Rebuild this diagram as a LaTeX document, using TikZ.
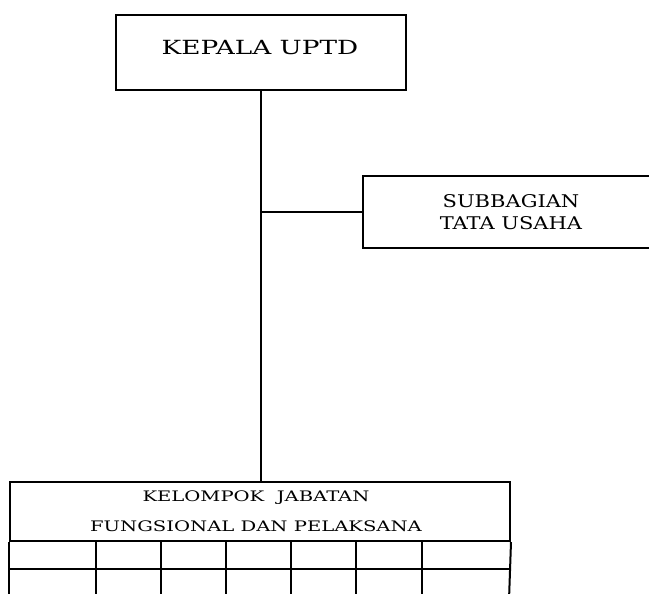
\documentclass[tikz,border=0pt]{standalone}
\usepackage{graphicx}
\usepackage{fontspec}
\setmainfont{DejaVu Serif}
\newcommand\widetext[4]{\scalebox{#1}[1]{\fontsize{#2}{#3}\selectfont\begin{tabular}{@{}c@{}}#4\end{tabular}}}
\begin{document}
\begin{tikzpicture}[x=1pt,y=-1pt,line width=2pt,
  box/.style={draw,rectangle,inner sep=0pt,anchor=north west},
  lbl/.style={inner sep=0pt}]
\useasboundingbox (0,0) rectangle (649,594);
\clip (0,0) rectangle (649,594);
% boxes
\node[box,minimum width=290pt,minimum height=75pt] (kepala) at (115,14) {};
\node[lbl] (kepalat) at (260,50) {\widetext{1.35}{19.5}{23}{KEPALA UPTD}};
\node[box,minimum width=300pt,minimum height=72pt] (sub) at (362,175) {};
\node[lbl] (subt) at (511,214) {\widetext{1.2}{17.5}{22}{SUBBAGIAN\\TATA USAHA}};
\node[box,minimum width=500pt,minimum height=59pt] (kel) at (9,481) {};
\node[lbl] (kelt) at (256,510) {\widetext{1.35}{14.5}{30}{KELOMPOK\ \ JABATAN\\FUNGSIONAL DAN PELAKSANA}};
% connectors
\draw (kepala.south) -- (kepala.south |- kel.north);
\coordinate (j) at (kepala.south |- sub.west);
\draw (j) -- (sub.west);
% table grid
\coordinate (rowA) at (9,569);
\draw (kel.south west) -- (9,600);
\draw (kel.south east) -- (509,600);
\draw (rowA) -- (509,569);
\foreach \cx in {96,161,226,291,356,422}{
  \draw (\cx,540) -- (\cx,600);
}
\end{tikzpicture}
\end{document}
